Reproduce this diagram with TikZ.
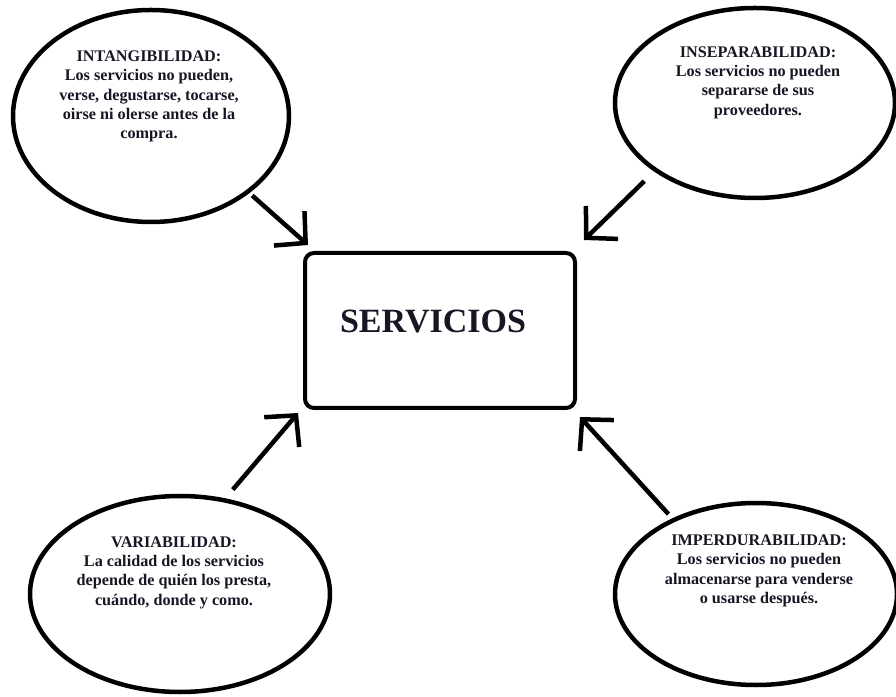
\documentclass[tikz,border=0pt]{standalone}
\usepackage{fontspec}
\setmainfont{Liberation Serif}
\usepackage{tikz}
\usetikzlibrary{shapes.geometric, arrows.meta}
\definecolor{tinta}{RGB}{22,22,36}
\tikzset{next/.style={->, >={Straight Barb[length=22pt, width=46pt]}, line width=4.5pt}}
\tikzset{rasgo/.style={ellipse, draw, line width=4.5pt, inner sep=0pt, outer sep=0pt}}
\tikzset{rasgotext/.style={align=center, text=tinta, inner sep=0pt, font=\fontsize{16.2}{19.3}\selectfont\bfseries}}
\newcommand{\boxw}{270pt}
\newcommand{\boxh}{155pt}

\begin{document}
\begin{tikzpicture}[x=1pt, y=1pt]
  \useasboundingbox (0,0) rectangle (896,696);

  % --- central box ---
  \node[draw, line width=4pt, rounded corners=9pt, minimum width=\boxw, minimum height=\boxh, outer sep=0pt] (servicios) at (440,365.5) {};
  \node[text=tinta, inner sep=0pt, font=\fontsize{34}{34}\selectfont\bfseries] (servtxt) at ([shift={(-7,8.5)}]servicios.center) {SERVICIOS};

  % --- top left ---
  \node[rasgo, minimum width=276pt, minimum height=212pt] (intang) at (151,580) {};
  \node[rasgotext] (intangtxt) at ([shift={(-2,19.5)}]intang.center)
    {INTANGIBILIDAD:\\ Los servicios no pueden,\\ verse, degustarse, tocarse,\\ oirse ni olerse antes de la\\ compra.};

  % --- top right ---
  \node[rasgo, minimum width=280pt, minimum height=190pt] (insep) at (755,593) {};
  \node[rasgotext] (inseptxt) at ([shift={(3,20.5)}]insep.center)
    {INSEPARABILIDAD:\\ Los servicios no pueden\\ separarse de sus\\ proveedores.};

  % --- bottom left ---
  \node[rasgo, minimum width=300pt, minimum height=196pt] (variab) at (180,102) {};
  \node[rasgotext] (variabtxt) at ([shift={(-6,21.5)}]variab.center)
    {VARIABILIDAD:\\ La calidad de los servicios\\ depende de quién los presta,\\ cuándo, donde y como.};

  % --- bottom right ---
  \node[rasgo, minimum width=282pt, minimum height=182pt] (imperd) at (756,102) {};
  \node[rasgotext] (imperdtxt) at ([shift={(3,23)}]imperd.center)
    {IMPERDURABILIDAD:\\ Los servicios no pueden\\ almacenarse para venderse\\ o usarse después.};

  % --- arrows into the box ---
  \draw[next, shorten <=6pt] (intang.-38) -- ([shift={(3,8)}]servicios.north west);
  \draw[next, shorten <=16pt] (insep.214.5) -- ([shift={(9,13)}]servicios.north east);
  \draw[next, shorten <=14pt] (variab.65.4) -- ([shift={(-7,-5)}]servicios.south west);
  \draw[next, shorten <=8pt] (imperd.138.4) -- ([shift={(5,-9)}]servicios.south east);

\end{tikzpicture}
\end{document}
